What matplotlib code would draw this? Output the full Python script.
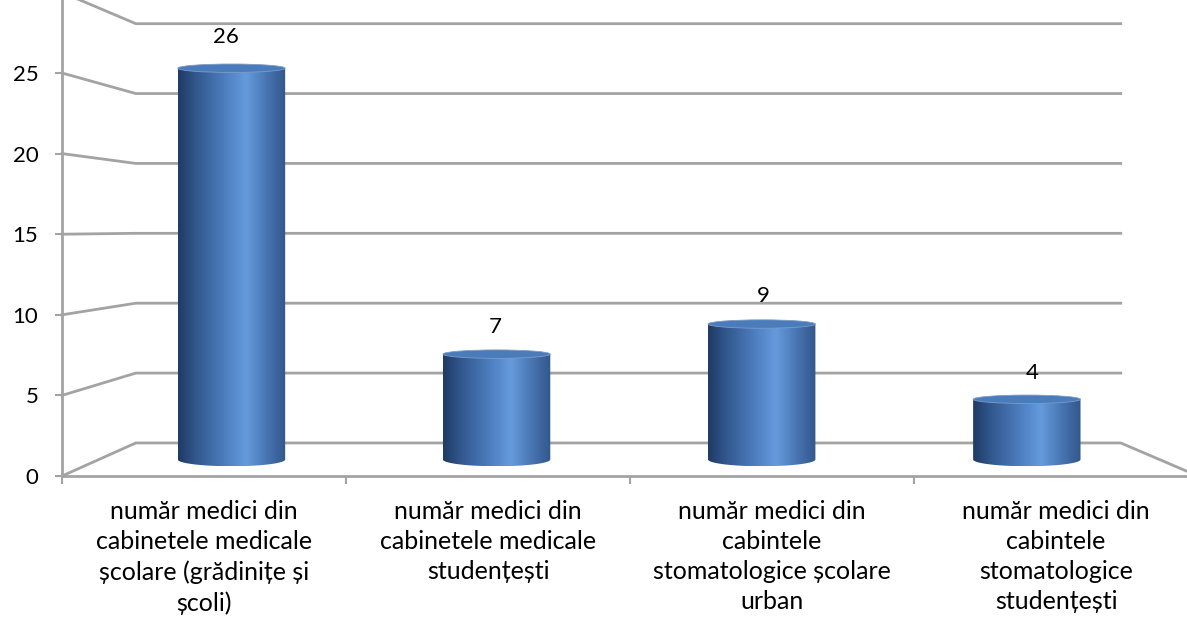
import numpy as np
import matplotlib.pyplot as plt
from matplotlib.path import Path
from matplotlib.patches import PathPatch, Ellipse
from matplotlib.transforms import Affine2D
from matplotlib.colors import LinearSegmentedColormap

plt.rcParams['font.family'] = ['Lato', 'DejaVu Sans']

# date
categories = [
    "număr medici din\ncabinetele medicale\nșcolare (grădinițe și\nșcoli)",
    "număr medici din\ncabinetele medicale\nstudențești",
    "număr medici din\ncabintele\nstomatologice școlare\nurban",
    "număr medici din\ncabintele\nstomatologice\nstudențești",
]
values = [26, 7, 9, 4]
yticks = [0, 5, 10, 15, 20, 25, 30]

grid_col = '#a3a3a3'

# adancime (perspectiva): planul din spate e micsorat fata de cel din fata
def depth(d):
    return Affine2D().scale(1 - 0.133 * d).translate(0.26 * d, 2.05 * d)

back = depth(1.0)
mid = depth(0.5)
lab = depth(0.4)

fig = plt.figure(figsize=(11.87, 6.2), dpi=100)
ax = fig.add_axes([62 / 1187, 144 / 620, 1136 / 1187, 483.6 / 620])
ax.set_xlim(0, len(values))
ax.set_ylim(0, 30)

# grila pe peretele din spate + podea
n = len(values)
for v in yticks:
    pts = np.array([[0, v], [0, v], [n, v]], dtype=float)
    pts[1:] = back.transform(pts[1:])
    if v == 0:
        pts = np.vstack([pts, [[n, 0]]])
    ax.plot(pts[:, 0], pts[:, 1], color=grid_col, lw=2, zorder=1,
            clip_on=False, solid_joinstyle='miter')

# cilindri
cmap = LinearSegmentedColormap.from_list('cyl', [
    (0.0, '#1f3a64'), (0.15, '#30558a'), (0.45, '#4f80c2'),
    (0.63, '#659bdd'), (0.85, '#4470ac'), (1.0, '#33578a')])
grad = np.linspace(0, 1, 256).reshape(1, -1)
w = 0.405
bot_b = 0.45
top_b = 0.28
t = np.linspace(0, np.pi, 80)
for i, val in enumerate(values):
    cu = i + 0.5
    pts = [(cu - w / 2, val), (cu + w / 2, val)]
    pts += list(zip(cu + w / 2 * np.cos(t), -bot_b * np.sin(t)))
    pts.append((cu - w / 2, val))
    pts = mid.transform(np.array(pts))
    patch = PathPatch(Path(pts, closed=True), facecolor='none',
                      edgecolor='none', transform=ax.transData)
    ax.add_patch(patch)
    x0, x1 = pts[:, 0].min(), pts[:, 0].max()
    y0, y1 = pts[:, 1].min(), pts[:, 1].max()
    im = ax.imshow(grad, cmap=cmap, extent=[x0, x1, y0, y1], aspect='auto',
                   interpolation='bicubic', zorder=3)
    im.set_clip_path(patch)
    c = mid.transform([(cu, val)])[0]
    s = 1 - 0.133 * 0.5
    ax.add_patch(Ellipse(c, w * s, 2 * top_b * s, facecolor='#4a7bbb',
                         edgecolor='#7f9bc4', lw=0.6, zorder=4))
    lp = lab.transform([(cu, val)])[0]
    ax.annotate(str(val), lp, xytext=(0, 29), textcoords='offset pixels',
                ha='center', va='center', fontsize=16, zorder=5)

ax.set_xlim(0, n)
ax.set_ylim(0, 30)

for side in ['top', 'right']:
    ax.spines[side].set_visible(False)
for side in ['left', 'bottom']:
    ax.spines[side].set_color(grid_col)
    ax.spines[side].set_linewidth(2)

ax.set_yticks(yticks)
ax.tick_params(axis='y', length=5, width=1.5, color=grid_col, labelsize=16, pad=12)
ax.set_xticks(range(n + 1))
ax.set_xticklabels([])
ax.tick_params(axis='x', which='major', length=6, width=1.5, color=grid_col)
ax.set_xticks(np.arange(n) + 0.5, categories, minor=True)
ax.tick_params(axis='x', which='minor', length=0, labelsize=18, pad=17)
for lbl in ax.get_xticklabels(minor=True):
    lbl.set_linespacing(1.38)

fig.savefig('out.png', dpi=100)
